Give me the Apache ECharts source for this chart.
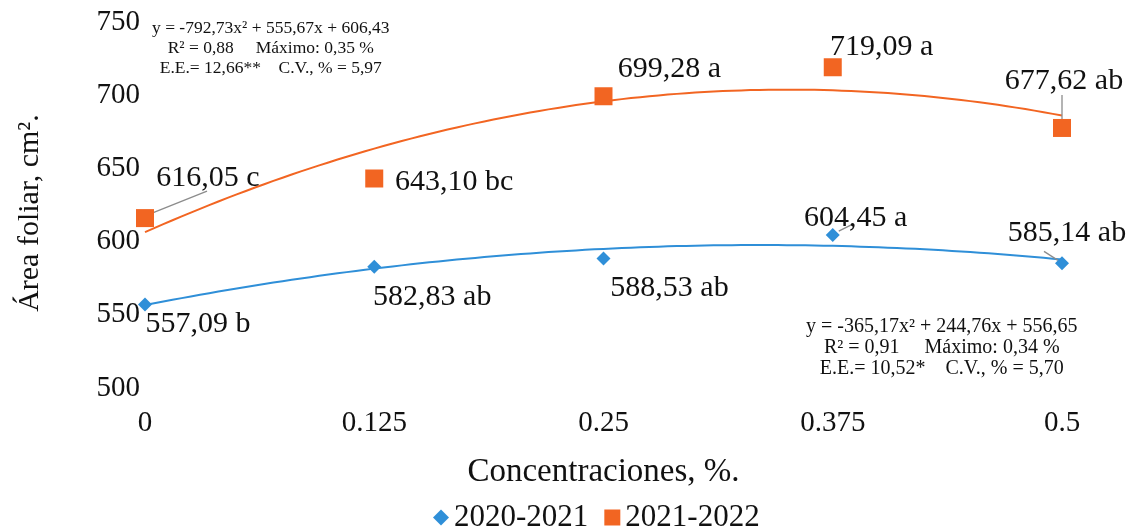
<!DOCTYPE html>
<html>
<head>
<meta charset="utf-8">
<script src="https://cdn.jsdelivr.net/npm/echarts@6/dist/echarts.min.js"></script>
<style>
  html, body { margin: 0; padding: 0; background: #ffffff; }
  #chart { width: 1128px; height: 529px; }
</style>
</head>
<body>
<div id="chart"></div>
<script>
// Concentration levels (%), and leaf area (cm²) per season
const concentrations = [0, 0.125, 0.25, 0.375, 0.5];
const xTickLabels = ['0', '0.125', '0.25', '0.375', '0.5'];
const season1Name = '2020-2021';
const season2Name = '2021-2022';
const season1Values = [557.09, 582.83, 588.53, 604.45, 585.14];
const season2Values = [616.05, 643.10, 699.28, 719.09, 677.62];
const season1Letters = ['b', 'ab', 'ab', 'a', 'ab'];
const season2Letters = ['c', 'bc', 'a', 'a', 'ab'];
// Quadratic fit coefficients [a, b, c] for y = a·x² + b·x + c
const season1Fit = [-365.17, 244.76, 556.65];
const season2Fit = [-792.73, 555.67, 606.43];
const season1Stats = ['y = -365,17x² + 244,76x + 556,65', 'R² = 0,91     Máximo: 0,34 %', 'E.E.= 10,52*    C.V., % = 5,70'];
const season2Stats = ['y = -792,73x² + 555,67x + 606,43', 'R² = 0,88     Máximo: 0,35 %', 'E.E.= 12,66**    C.V., % = 5,97'];

const FONT = '"Liberation Serif", "DejaVu Serif", serif';
const BLUE = '#2f8fd8';
const ORANGE = '#f26522';
const TEXT = '#111111';
const FS = 29;

// Label offsets (px) from each marker centre to its label centre
const s1Offsets = [[53, 20], [58, 30], [66, 30], [23, -17], [5, -30]];
const s2Offsets = [[63, -40], [80, 4], [66, -27], [49, -20], [2, -47]];
// Leader lines: [series, index, [start dx, dy], [end dx, dy]] relative to the marker
const leaders = [
  [1, 0, [7, -5], [62, -27]],
  [0, 3, [6, -4], [20, -11]],
  [0, 4, [-4, -3], [-18, -12]],
  [1, 4, [0, -9], [0, -33]]
];

function fmt(v) { return v.toFixed(2).replace('.', ','); }

function pointItems(values, letters) {
  return values.map((v, i) => ({
    value: [concentrations[i], v],
    label: { formatter: fmt(v) + ' ' + letters[i] }
  }));
}

// Trend curve sampled from the fitted polynomial printed on the chart
function fitCurve(coef) {
  const pts = [];
  const n = 100;
  for (let i = 0; i <= n; i++) {
    const x = 0.5 * i / n;
    pts.push([x, coef[0] * x * x + coef[1] * x + coef[2]]);
  }
  return pts;
}

function offsetLayout(offsets) {
  return function (params) {
    const o = offsets[params.dataIndex];
    const r = params.rect;
    const lr = params.labelRect;
    return {
      x: r.x + r.width / 2 + o[0] - lr.width / 2,
      y: r.y + r.height / 2 + o[1] - lr.height / 2,
      align: 'left',
      verticalAlign: 'top'
    };
  };
}

const labelStyle = {
  show: true, position: 'top', distance: 0, color: TEXT,
  fontFamily: FONT, fontSize: 30, textBorderWidth: 0, opacity: 1
};

const chart = echarts.init(document.getElementById('chart'));
chart.setOption({
  backgroundColor: '#ffffff',
  animation: false,
  grid: { left: 145, right: 66, top: 22, bottom: 141, containLabel: false },
  xAxis: {
    type: 'value', min: 0, max: 0.5, interval: 0.125,
    name: 'Concentraciones, %.', nameLocation: 'middle', nameGap: 68,
    nameTextStyle: { fontFamily: FONT, fontSize: 33, color: TEXT },
    axisLine: { show: false }, axisTick: { show: false }, splitLine: { show: false },
    axisLabel: {
      margin: 21, fontFamily: FONT, fontSize: FS, color: TEXT,
      formatter: v => { const i = concentrations.indexOf(v); return i >= 0 ? xTickLabels[i] : ''; }
    }
  },
  yAxis: {
    type: 'value', min: 500, max: 750, interval: 50,
    name: 'Área foliar, cm².', nameLocation: 'middle', nameGap: 100,
    nameTextStyle: { fontFamily: FONT, fontSize: 30, color: TEXT, padding: [0, 16, 0, 0] },
    axisLine: { show: false }, axisTick: { show: false }, splitLine: { show: false },
    axisLabel: { margin: 5, fontFamily: FONT, fontSize: FS, color: TEXT }
  },
  legend: {
    bottom: -9, left: 428, itemGap: 16, itemWidth: 16, itemHeight: 16,
    data: [
      { name: season1Name, icon: 'diamond', itemStyle: { color: BLUE } },
      { name: season2Name, icon: 'rect', itemStyle: { color: ORANGE } }
    ],
    textStyle: { fontFamily: FONT, fontSize: 31, color: TEXT }
  },
  series: [
    {
      name: season1Name + ' fit', type: 'line', data: fitCurve(season1Fit),
      showSymbol: false, lineStyle: { color: BLUE, width: 2 }, z: 1, silent: true
    },
    {
      name: season2Name + ' fit', type: 'line', data: fitCurve(season2Fit),
      showSymbol: false, lineStyle: { color: ORANGE, width: 2 }, z: 1, silent: true
    },
    {
      name: season1Name, type: 'scatter', symbol: 'diamond', symbolSize: 14,
      itemStyle: { color: BLUE, opacity: 1 }, z: 3,
      data: pointItems(season1Values, season1Letters),
      label: labelStyle,
      labelLayout: offsetLayout(s1Offsets)
    },
    {
      name: season2Name, type: 'scatter', symbol: 'rect', symbolSize: 18,
      itemStyle: { color: ORANGE, opacity: 1 }, z: 3,
      data: pointItems(season2Values, season2Letters),
      label: labelStyle,
      labelLayout: offsetLayout(s2Offsets)
    }
  ],
  graphic: [
    {
      type: 'text', left: 152, top: 18,
      style: {
        text: season2Stats.join('\n'), fill: TEXT, font: '17.5px ' + FONT,
        textAlign: 'center', lineHeight: 20
      }
    },
    {
      type: 'text', left: 806, top: 316,
      style: {
        text: season1Stats.join('\n'), fill: TEXT, font: '20px ' + FONT,
        textAlign: 'center', lineHeight: 21
      }
    }
  ]
});

// Grey leader lines joining some markers to their value labels
const seriesValues = [season1Values, season2Values];
const leaderLines = leaders.map(([s, i, a, b]) => {
  const p = chart.convertToPixel({ gridIndex: 0 }, [concentrations[i], seriesValues[s][i]]);
  return {
    type: 'line', z: 2, silent: true,
    shape: { x1: p[0] + a[0], y1: p[1] + a[1], x2: p[0] + b[0], y2: p[1] + b[1] },
    style: { stroke: '#8c8c8c', lineWidth: 1.3 }
  };
});
chart.setOption({ graphic: leaderLines.map((g, k) => Object.assign({ id: 'leader' + k }, g)) });
</script>
</body>
</html>
